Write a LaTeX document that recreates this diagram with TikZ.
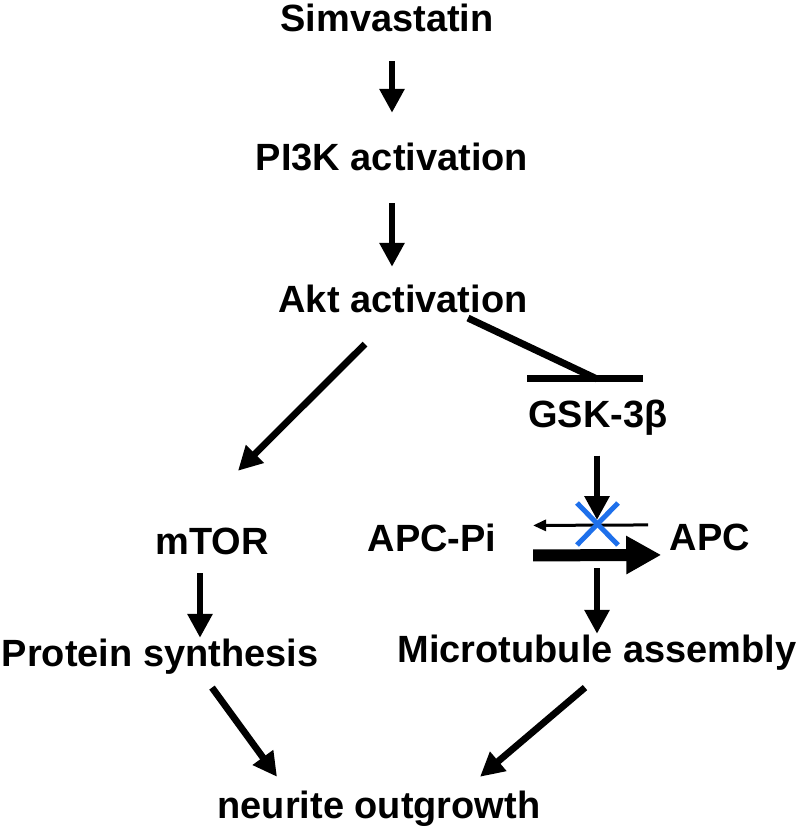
\documentclass[tikz,border=0pt]{standalone}
\usepackage{fontspec}
\setmainfont{Liberation Sans}
\usepackage{tikz}
\usetikzlibrary{arrows.meta, positioning}
\definecolor{xblue}{RGB}{30, 112, 235}

\begin{document}
\begin{tikzpicture}[x=1cm, y=1cm,
  every node/.style={font=\fontsize{10.8}{13}\selectfont\bfseries, inner sep=0pt, anchor=base},
  arr/.style={-{Triangle[length=0.24cm, width=0.24cm]}, line width=0.068cm},
  thinarr/.style={-{Triangle[length=0.13cm, width=0.11cm]}, line width=0.03cm},
  fatarr/.style={-{Triangle[length=0.35cm, width=0.36cm]}, line width=0.12cm},
  inhib/.style={line width=0.07cm}]
  \useasboundingbox (0,0) rectangle (8,-8.32);
  % Main chain
  \node (simva) at (3.87,-0.32) {Simvastatin};
  \node (pi3k) at (3.92,-1.71) {PI3K activation};
  \node (akt) at (4.03,-3.13) {Akt activation};
  % Right branch
  \node (gsk) at (5.98,-4.28) {GSK-3β};
  \node (apcpi) at (4.32,-5.51) {APC-Pi};
  \node (apc) at (7.10,-5.50) {APC};
  \node (micro) at (5.97,-6.62) {Microtubule assembly};
  % Left branch
  \node (mtor) at (2.12,-5.54) {mTOR};
  \node (prot) at (1.60,-6.66) {Protein synthesis};
  % Outcome
  \node (neur) at (3.79,-8.18) {neurite outgrowth};
  % Blocked step
  \coordinate (block) at (5.97,-5.24);
  \coordinate (gskbar) at (5.97,-3.79);

  % Sequential arrows
  \draw[arr, shorten <=0.28cm, shorten >=0.30cm] (simva.south -| pi3k.north) -- (pi3k.north);
  \draw[arr, shorten <=0.31cm, shorten >=0.18cm] (pi3k.south) -- (akt.north -| pi3k.south);
  \draw[arr] ([xshift=-0.38cm, yshift=-0.30cm]akt.south) -- ([xshift=0.26cm, yshift=0.56cm]mtor.north);

  % Inhibition of GSK-3b
  \draw[inhib] ([xshift=0.65cm, yshift=-0.04cm]akt.south) -- (gskbar);
  \draw[inhib] ([xshift=-0.70cm]gskbar) -- ([xshift=0.46cm]gskbar);

  % GSK-3b on APC
  \draw[arr, shorten <=0.19cm, shorten >=0.04cm] (gsk.south -| block) -- (block);
  \draw[thinarr] ([xshift=-0.21cm, yshift=0.12cm]apc.west) -- ([xshift=0.36cm, yshift=0.12cm]apcpi.east);
  \draw[fatarr] ([xshift=0.36cm, yshift=-0.18cm]apcpi.east) -- ([xshift=-0.08cm, yshift=-0.18cm]apc.west);
  \draw[xblue, line width=0.05cm] ([xshift=-0.20cm, yshift=0.21cm]block) -- ([xshift=0.21cm, yshift=-0.21cm]block);
  \draw[xblue, line width=0.05cm] ([xshift=0.21cm, yshift=0.21cm]block) -- ([xshift=-0.20cm, yshift=-0.21cm]block);
  \draw[arr] ([yshift=-0.44cm]block) -- (micro.north);

  % Left branch arrows
  \draw[arr, shorten <=0.18cm] ([xshift=-0.12cm]mtor.south) -- ([xshift=-0.12cm]mtor.south |- prot.north);

  % Converging arrows
  \draw[arr] ([xshift=0.52cm, yshift=-0.13cm]prot.south) -- ([xshift=-1.02cm, yshift=0.13cm]neur.north);
  \draw[arr] ([xshift=-0.12cm, yshift=-0.17cm]micro.south) -- ([xshift=1.01cm, yshift=0.13cm]neur.north);
\end{tikzpicture}
\end{document}
